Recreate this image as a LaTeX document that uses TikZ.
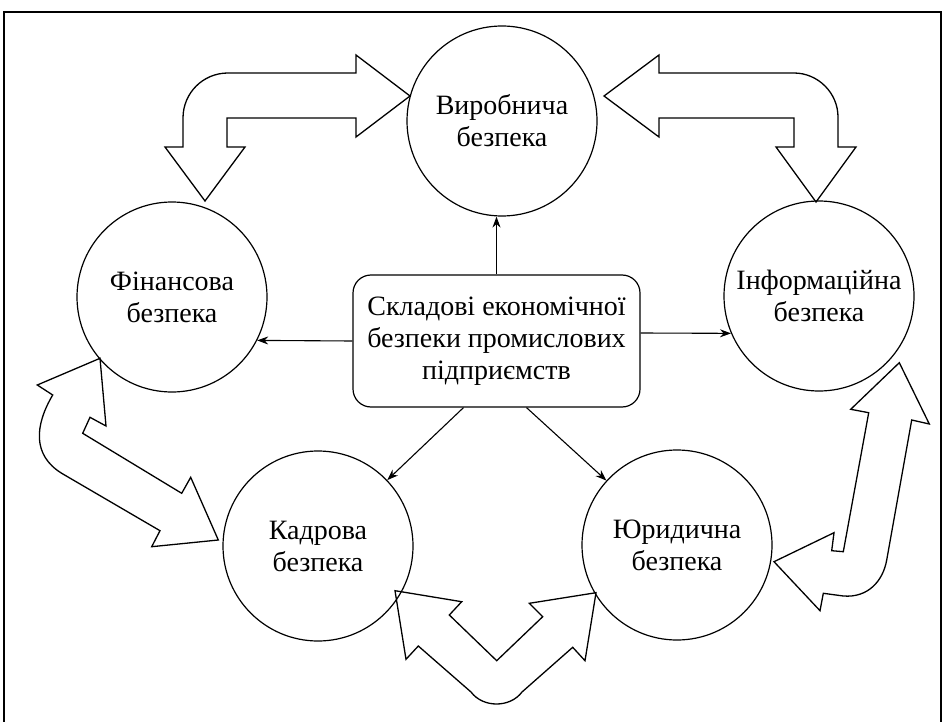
\documentclass[tikz,border=0pt]{standalone}
\usepackage{fontspec}
\setmainfont{Liberation Serif}
\usetikzlibrary{arrows.meta,calc}
\begin{document}
\begin{tikzpicture}[x=1pt,y=-1pt,
  bub/.style={circle,draw,line width=1.2pt,minimum size=190pt,inner sep=0pt,align=center,font=\fontsize{28}{32}\selectfont},
  hubbox/.style={rectangle,rounded corners=18pt,draw,line width=1.2pt,minimum width=287pt,minimum height=132pt,inner sep=0pt,align=center,font=\fontsize{28}{32}\selectfont},
  link/.style={line width=1.1pt,-{Stealth[length=11pt,width=8pt]}},
  blk/.style={draw,line width=1.3pt,fill=white,line join=miter}]
\useasboundingbox (0,0) rectangle (947,722);
\draw[line width=1.6pt] (4,725) -- (4,12) -- (941,12) -- (941,725);

% block arrows
\draw[blk] (410,96) -- (356,55) -- (356,73) -- (228,73)
  .. controls (203,73) and (183,93) .. (183,118) -- (183,147) -- (165,147)
  -- (205,201) -- (245,147) -- (227,147) -- (227,118) -- (356,118) -- (356,137) -- cycle;
\draw[blk] (604,96) -- (659,55) -- (659,73) -- (794,73)
  .. controls (818,73) and (838,93) .. (838,117) -- (838,147) -- (856,147)
  -- (816,202) -- (776,147) -- (794,147) -- (794,118) -- (659,118) -- (659,137) -- cycle;
\draw[blk] (100,358.3) -- (37.3,385) -- (52.7,395)
  .. controls (35,425) and (32,455) .. (61.7,473.3) -- (160,530.7) -- (151.7,546.7)
  -- (218.3,540) -- (190.7,477.3) -- (181.7,493.3) -- (82.7,433.3) -- (90,417.3) -- (106,426) -- cycle;
\draw[blk] (899.3,362.7) -- (850.7,409.3) -- (868.7,412.7) -- (843.3,551.7) -- (831.7,550.7)
  -- (834,532.7) -- (774,561.7) -- (820,610.7) -- (823.3,593.3) -- (843.3,596)
  .. controls (868,598) and (883,581) .. (886.7,560) -- (911.7,420) -- (929.3,424) -- cycle;
\draw[blk] (395,590.7) -- (461.7,601.7) -- (449.3,615) -- (496.7,660.7) -- (542.7,616.7)
  -- (529.3,603.3) -- (596,592.7) -- (585,660.7) -- (572.7,647.3) -- (522,692)
  .. controls (510,708) and (483,708) .. (471,692) -- (418.3,646) -- (406,659.3) -- cycle;

% nodes
\node[bub] (vyr) at (502,121) {Виробнича\\безпека};
\node[bub] (fin) at (172,297) {Фінансова\\безпека};
\node[bub] (inf) at (819,296) {Інформаційна\\безпека};
\node[bub] (kad) at (318,546) {Кадрова\\безпека};
\node[bub] (yur) at (677,545) {Юридична\\безпека};
\node[hubbox] (core) at (496.5,341) {Складові економічної\\безпеки промислових\\підприємств};

% connectors
\draw[link] (core.north) -- (core.north |- vyr.south);
\draw[link] (core.west) -- (fin.-27.6);
\draw[link] ($(core.east)+(0,-8)$) -- (inf.203);
\draw[link] ($(core.south)+(-33,0)$) -- (kad);
\draw[link] ($(core.south)+(30,0)$) -- (yur);
\end{tikzpicture}
\end{document}
